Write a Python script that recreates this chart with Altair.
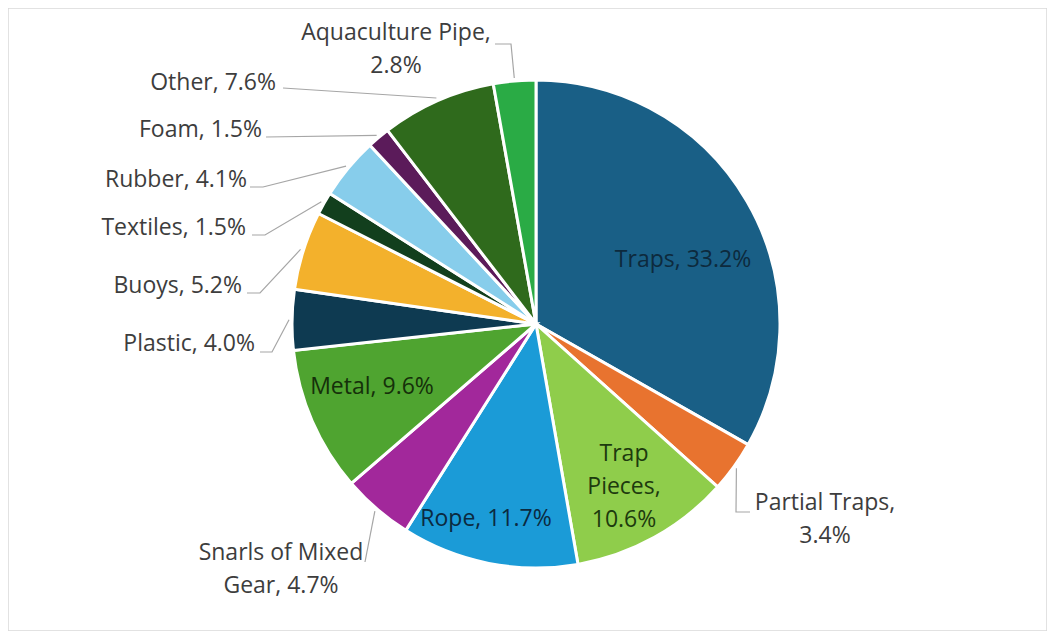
import math
import altair as alt
import pandas as pd

# ---- data ----
categories = ["Traps", "Partial Traps", "Trap Pieces", "Rope", "Snarls of Mixed Gear",
              "Metal", "Plastic", "Buoys", "Textiles", "Rubber", "Foam", "Other",
              "Aquaculture Pipe"]
values = [33.2, 3.4, 10.6, 11.7, 4.7, 9.6, 4.0, 5.2, 1.5, 4.1, 1.5, 7.6, 2.8]
colors = ["#195f86", "#e8732f", "#8fcd4b", "#1b9bd7", "#a2289b", "#4fa430", "#0e3a51",
          "#f3b12c", "#123f1d", "#87cdeb", "#5b1b5a", "#2f6a1c", "#2aab45"]
label_names = ["Traps", "Partial Traps,\n", "Trap\nPieces,\n", "Rope", "Snarls of Mixed\nGear",
               "Metal", "Plastic", "Buoys", "Textiles", "Rubber", "Foam", "Other",
               "Aquaculture Pipe,\n"]

# ---- layout (chart pixel space; page offset 8px) ----
W, H = 1039, 623
CX, CY, R = 528, 316, 244
OFF = 8
# label anchor: x, y of first line, align, text colour
label_layout = {
    "Traps": (683, 260, "center", "#0d2a3d"),
    "Partial Traps": (825, 503, "center", "#3d3d3d"),
    "Trap Pieces": (624, 454, "center", "#1d3a0e"),
    "Rope": (486, 519, "center", "#0b2a40"),
    "Snarls of Mixed Gear": (281, 553, "center", "#3d3d3d"),
    "Metal": (372, 387, "center", "#15300a"),
    "Plastic": (255, 344, "right", "#3d3d3d"),
    "Buoys": (242, 286, "right", "#3d3d3d"),
    "Textiles": (246, 228, "right", "#3d3d3d"),
    "Rubber": (247, 180, "right", "#3d3d3d"),
    "Foam": (262, 130, "right", "#3d3d3d"),
    "Other": (276, 83, "right", "#3d3d3d"),
    "Aquaculture Pipe": (396, 33, "center", "#3d3d3d"),
}
# leader line points (label end, elbow) before reaching the slice edge
leader_layout = {
    "Partial Traps": [(750, 512), (736, 512)],
    "Snarls of Mixed Gear": [(365, 562), (365, 562)],
    "Plastic": [(260, 352), (272, 352)],
    "Buoys": [(247, 293), (260, 293)],
    "Textiles": [(252, 235), (265, 235)],
    "Rubber": [(250, 187), (263, 187)],
    "Foam": [(266, 137), (266, 137)],
    "Other": [(283, 88), (283, 88)],
    "Aquaculture Pipe": [(495, 44), (511, 44)],
}

total = sum(values)
df = pd.DataFrame({"category": categories, "value": values, "order": list(range(len(values)))})

# label table
rows = []
for name, v, lab in zip(categories, values, label_names):
    x, y, align, tc = label_layout[name]
    sep = "" if lab.endswith("\n") else ", "
    rows.append({"category": name, "label": f"{lab}{sep}{v:.1f}%", "x": x - OFF, "y": y - OFF,
                 "align": align, "tcolor": tc})
lab_df = pd.DataFrame(rows)

# leader lines
lrows = []
cum = 0.0
for name, v in zip(categories, values):
    mid = (cum + v / 2) / total * 2 * math.pi
    cum += v
    if name in leader_layout:
        pts = leader_layout[name]
        ex = CX + (R + 3) * math.sin(mid)
        ey = CY - (R + 3) * math.cos(mid)
        seq = [(p[0] - OFF, p[1] - OFF) for p in pts] + [(ex, ey)]
        for i, (px, py) in enumerate(seq):
            lrows.append({"category": name, "step": i, "x": px, "y": py})
line_df = pd.DataFrame(lrows)

pie = alt.Chart(df).mark_arc(radius=R, stroke="white", strokeWidth=3).encode(
    theta=alt.Theta("value:Q", stack=True),
    order=alt.Order("order:Q"),
    color=alt.Color("category:N", scale=alt.Scale(domain=categories, range=colors), legend=None),
    x=alt.value(CX),
    y=alt.value(CY),
)

leaders = alt.Chart(line_df).mark_line(color="#a6a6a6", strokeWidth=1.2).encode(
    x=alt.X("x:Q", scale=None, axis=None),
    y=alt.Y("y:Q", scale=None, axis=None),
    detail="category:N",
    order="step:Q",
)

def text_layer(align):
    return alt.Chart(lab_df[lab_df["align"] == align]).mark_text(
        font="Open Sans", fontSize=23, lineBreak="\n", lineHeight=33, baseline="middle", align=align
    ).encode(
        x=alt.X("x:Q", scale=None, axis=None),
        y=alt.Y("y:Q", scale=None, axis=None),
        text="label:N",
        color=alt.Color("tcolor:N", scale=None),
    )

chart = alt.layer(pie, leaders, text_layer("center"), text_layer("right")).properties(
    width=W, height=H, padding=0, autosize=alt.AutoSizeParams(type="none"), background="white"
).configure_view(stroke="#d9d9d9", strokeWidth=1.5)

chart.save("out.html", embed_options={"renderer": "svg", "actions": False})
